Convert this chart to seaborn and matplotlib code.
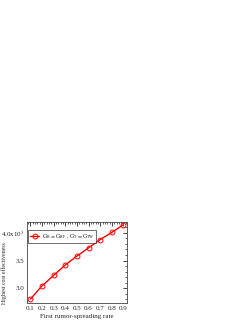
import matplotlib
matplotlib.use("Agg")
import matplotlib.pyplot as plt
import seaborn as sns
import pandas as pd
from matplotlib.ticker import MultipleLocator, FixedLocator, FixedFormatter

# データ
rate = [0.1, 0.2, 0.3, 0.4, 0.5, 0.6, 0.7, 0.8, 0.9]
cost_eff = [2.80, 3.04, 3.23, 3.42, 3.58, 3.73, 3.88, 4.01, 4.15]
series_label = r"$\mathrm{G_R = G_{RF}}$ , $\mathrm{G_T = G_{TW}}$"

df = pd.DataFrame({"rate": rate, "cost": cost_eff})

sns.set_style("white")
plt.rcParams["font.family"] = ["Liberation Serif", "DejaVu Serif"]
plt.rcParams["mathtext.fontset"] = "stix"

fig = plt.figure(figsize=(2.49, 3.23), dpi=100)
ax = fig.add_axes([0.108, 0.062, 0.402, 0.251])

sns.lineplot(data=df, x="rate", y="cost", ax=ax, color="red", lw=1.0,
             marker="o", markersize=3.5, markerfacecolor="none",
             markeredgecolor="red", markeredgewidth=0.7, label=series_label)

ax.set_xlim(0.07, 0.93)
ax.set_ylim(2.73, 4.2)
ax.xaxis.set_major_locator(MultipleLocator(0.1))
ax.xaxis.set_minor_locator(MultipleLocator(0.02))
ax.yaxis.set_major_locator(FixedLocator([3.0, 3.5, 4.0]))
ax.yaxis.set_major_formatter(FixedFormatter(["3.0", "3.5", r"4.0x10$^3$"]))
ax.yaxis.set_minor_locator(MultipleLocator(0.1))
ax.tick_params(which="both", direction="in", top=True, right=True, labelsize=5, pad=2)
ax.tick_params(which="major", length=3, width=0.6)
ax.tick_params(which="minor", length=1.5, width=0.5)
for s in ax.spines.values():
    s.set_linewidth(0.6)
    s.set_color("#444444")

ax.set_xlabel("First rumor-spreading rate", fontsize=5, labelpad=2)
ax.set_ylabel("Highest cost effectiveness", fontsize=4.2)
ax.yaxis.set_label_coords(-0.20, 0.37)

leg = ax.legend(loc="upper left", fontsize=4.2, frameon=True, fancybox=False,
                edgecolor="black", handlelength=1.6, borderpad=0.35,
                handletextpad=0.4, borderaxespad=0, bbox_to_anchor=(0.01, 0.895))
leg.get_frame().set_linewidth(0.5)

fig.savefig("out.png", dpi=100, facecolor="white")
